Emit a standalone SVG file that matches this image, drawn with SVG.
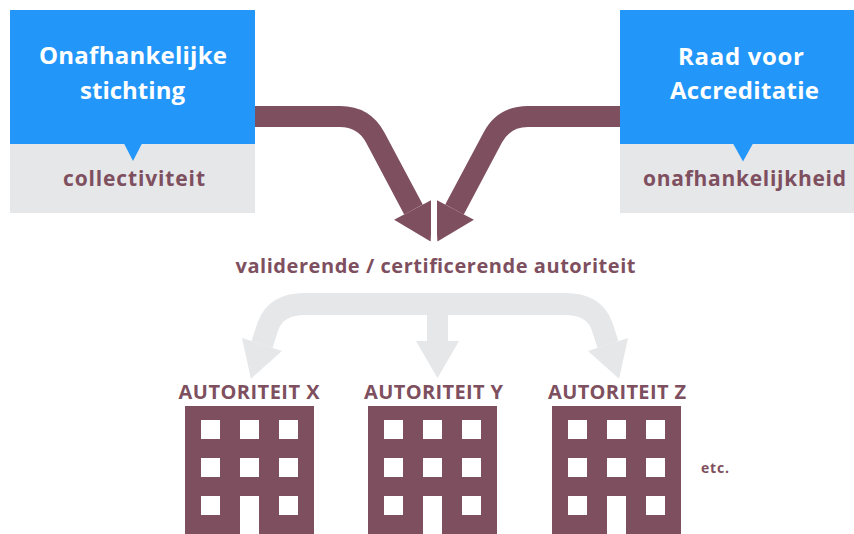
<svg xmlns="http://www.w3.org/2000/svg" xmlns:xlink="http://www.w3.org/1999/xlink" width="854" height="534" viewBox="0 0 854 534">
<style>
  text { font-family: "Open Sans", "Liberation Sans", sans-serif; font-weight: 700; text-anchor: middle; }
  .title { fill: #ffffff; font-size: 24px; }
  .sub { fill: #7E4F5E; font-size: 21px; }
  .mid { fill: #7E4F5E; font-size: 20px; }
  .aut { fill: #7E4F5E; font-size: 20px; }
  .etc { fill: #7E4F5E; font-size: 14px; }
  .blue { fill: #2397F9; }
  .grey { fill: #E6E7E9; }
  .maroon { fill: #7E4F5E; }
  .mshaft { fill: none; stroke: #7E4F5E; stroke-width: 21; }
  .gshaft { fill: none; stroke: #E6E7E9; stroke-width: 22; }
  .win { fill: #ffffff; }
</style>
<defs>
  <clipPath id="clipLeft"><rect x="0" y="0" width="431" height="534"/></clipPath>
  <g id="bldg">
    <rect class="maroon" x="0" y="0" width="129" height="128"/>
    <rect class="win" x="16" y="14" width="19" height="19"/>
    <rect class="win" x="55" y="14" width="19" height="19"/>
    <rect class="win" x="94" y="14" width="19" height="19"/>
    <rect class="win" x="16" y="52" width="19" height="19"/>
    <rect class="win" x="55" y="52" width="19" height="19"/>
    <rect class="win" x="94" y="52" width="19" height="19"/>
    <rect class="win" x="16" y="90" width="19" height="19"/>
    <rect class="win" x="55" y="90" width="19" height="38"/>
    <rect class="win" x="94" y="90" width="19" height="19"/>
  </g>
</defs>
<rect x="0" y="0" width="854" height="534" fill="#ffffff"/>

<g id="connectors">
  <g id="arrow-left-maroon" clip-path="url(#clipLeft)">
    <path class="mshaft" d="M240,116.5 H340 Q364,116.5 375.3,137.6 L413.5,209.5"/>
    <polygon class="maroon" points="394.1,219.8 432.9,199.2 430.6,241.5"/>
  </g>
  <g id="arrow-right-maroon" transform="translate(868,0) scale(-1,1)">
    <g clip-path="url(#clipLeft)">
      <path class="mshaft" d="M240,116.5 H340 Q364,116.5 375.3,137.6 L413.5,209.5"/>
      <polygon class="maroon" points="394.1,219.8 432.9,199.2 430.6,241.5"/>
    </g>
  </g>
  <g id="arrow-grey-left">
    <path class="gshaft" d="M437.5,304 H305 Q276,304 268,326 L262,344.5"/>
    <polygon class="grey" points="242,338 282,351 250.9,378.7"/>
  </g>
  <g id="arrow-grey-right" transform="translate(870,0) scale(-1,1)">
    <path class="gshaft" d="M437.5,304 H305 Q276,304 268,326 L262,344.5"/>
    <polygon class="grey" points="242,338 282,351 250.9,378.7"/>
  </g>
  <g id="arrow-grey-center">
    <path class="gshaft" style="stroke-width:21" d="M437.5,300 V341.5"/>
    <polygon class="grey" points="416,341 459,341 437.5,378"/>
  </g>
</g>

<g id="node-stichting">
  <rect class="blue" x="10" y="10" width="245" height="134"/>
  <rect class="grey" x="10" y="144" width="245" height="69"/>
  <polygon class="blue" points="124,143.5 142,143.5 133,161"/>
  <text class="title" x="133" y="64" textLength="188">Onafhankelijke</text>
  <text class="title" x="132.5" y="99" textLength="105">stichting</text>
  <text class="sub" x="134" y="186" textLength="142">collectiviteit</text>
</g>

<g id="node-raad">
  <rect class="blue" x="620" y="10" width="234" height="134"/>
  <rect class="grey" x="620" y="144" width="234" height="69"/>
  <polygon class="blue" points="733,143.5 753,143.5 743,161.5"/>
  <text class="title" x="741" y="65" textLength="126">Raad voor</text>
  <text class="title" x="744.5" y="99" textLength="149">Accreditatie</text>
  <text class="sub" x="744.5" y="186" textLength="203">onafhankelijkheid</text>
</g>

<g id="node-validerend">
  <text class="mid" x="435.5" y="273" textLength="400">validerende / certificerende autoriteit</text>
</g>

<g id="node-autoriteit-x">
  <text class="aut" x="249" y="399" textLength="141">AUTORITEIT X</text>
  <use xlink:href="#bldg" href="#bldg" x="185" y="406"/>
</g>
<g id="node-autoriteit-y">
  <text class="aut" x="433.5" y="399" textLength="139">AUTORITEIT Y</text>
  <use xlink:href="#bldg" href="#bldg" x="368" y="406"/>
</g>
<g id="node-autoriteit-z">
  <text class="aut" x="617" y="399" textLength="138">AUTORITEIT Z</text>
  <use xlink:href="#bldg" href="#bldg" x="552" y="406"/>
</g>
<g id="node-etc">
  <text class="etc" x="715" y="473" textLength="28">etc.</text>
</g>
</svg>
